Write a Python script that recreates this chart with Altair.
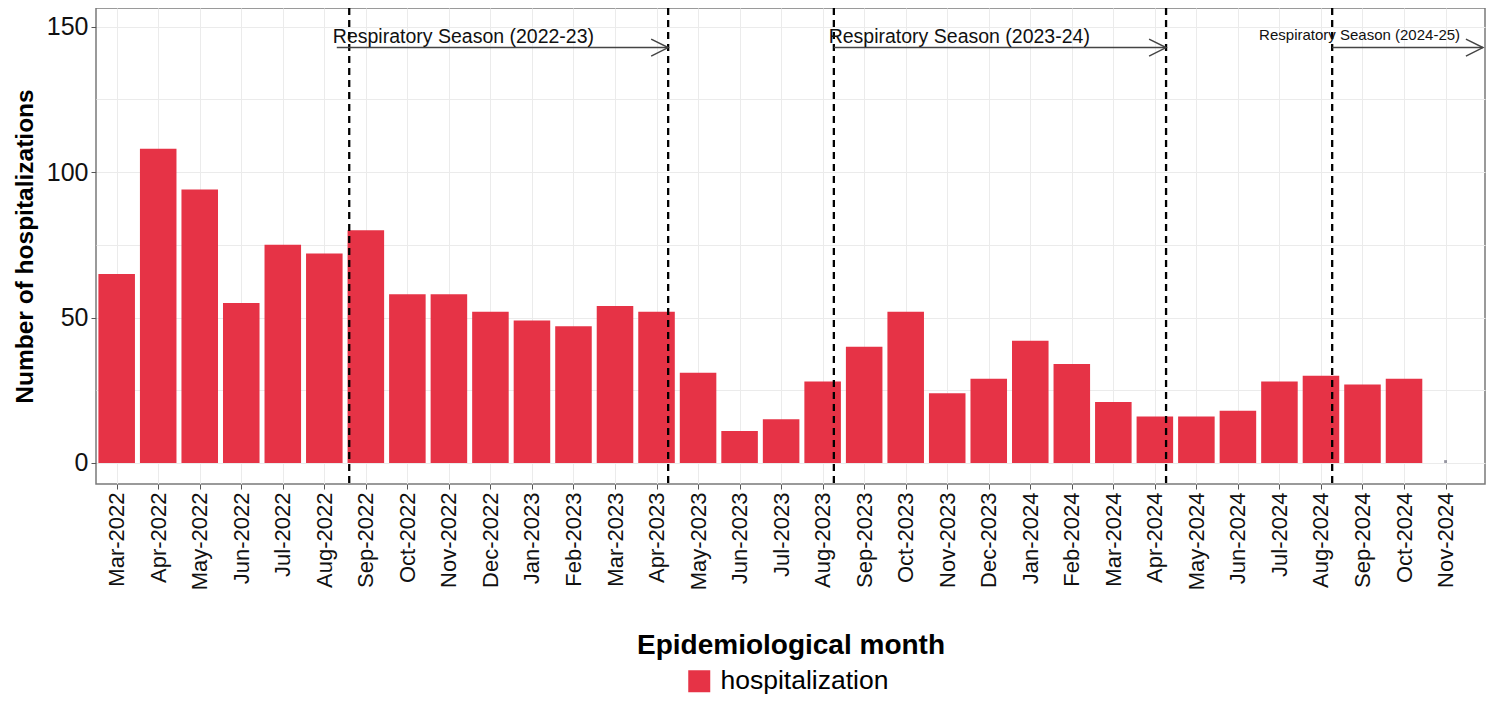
import altair as alt
import pandas as pd

months = ["Mar-2022", "Apr-2022", "May-2022", "Jun-2022", "Jul-2022", "Aug-2022",
          "Sep-2022", "Oct-2022", "Nov-2022", "Dec-2022", "Jan-2023", "Feb-2023",
          "Mar-2023", "Apr-2023", "May-2023", "Jun-2023", "Jul-2023", "Aug-2023",
          "Sep-2023", "Oct-2023", "Nov-2023", "Dec-2023", "Jan-2024", "Feb-2024",
          "Mar-2024", "Apr-2024", "May-2024", "Jun-2024", "Jul-2024", "Aug-2024",
          "Sep-2024", "Oct-2024", "Nov-2024"]
hospitalizations = [65, 108, 94, 55, 75, 72, 80, 58, 58, 52, 49, 47, 54, 52, 31, 11, 15,
                    28, 40, 52, 24, 29, 42, 34, 21, 16, 16, 18, 28, 30, 27, 29]
# Nov-2024: a tiny mark only
last_month_value = [0.5]

# season boundary lines (month index units)
vlines = [5.6, 13.28, 17.27, 25.27, 29.27]
season_labels = ["Respiratory Season (2022-23)", "Respiratory Season (2023-24)",
                 "Respiratory Season (2024-25)"]
season_text_x = [8.35, 20.29, 29.93]
season_text_y = [146.3, 146.3, 147.1]
season_text_size = [19.5, 19.5, 15]
arrow_start = [5.3, 17.27, 29.27]
arrow_end = [13.28, 25.27, 32.9]
arrow_y = [142.8, 142.8, 142.8]

bar_half = 0.44
FONT = "Liberation Sans"
RED = "#E63346"

bars = pd.DataFrame({
    "idx": list(range(len(hospitalizations))),
    "month": months[:len(hospitalizations)],
    "value": hospitalizations,
    "series": ["hospitalization"] * len(hospitalizations),
})
bars["x0"] = bars["idx"] - bar_half
bars["x1"] = bars["idx"] + bar_half

dot = pd.DataFrame({"idx": [len(months) - 1], "value": last_month_value})
lines = pd.DataFrame({"x": vlines})
texts = pd.DataFrame({"x": season_text_x, "y": season_text_y,
                      "label": season_labels, "size": season_text_size})
arrows = pd.DataFrame({"x": arrow_start, "x2": arrow_end, "y": arrow_y})

xdomain = [-0.498, 32.95]
ydomain = [-7.22, 156.4]

label_arr = "[" + ",".join("'" + m + "'" for m in months) + "]"
xvals = [i / 2 for i in range(0, 2 * len(months))]
yvals = [0, 25, 50, 75, 100, 125, 150]

xscale = alt.Scale(domain=xdomain, nice=False, zero=False)
yscale = alt.Scale(domain=ydomain, nice=False, zero=False)

xaxis = alt.Axis(
    values=xvals, grid=True, gridColor="#EBEBEB", gridWidth=1,
    labelExpr="datum.value % 1 == 0 ? " + label_arr + "[datum.value] : ''",
    labelAngle=-90, labelAlign="right", labelBaseline="middle",
    labelFontSize=22, labelFont=FONT, labelColor="#111", labelPadding=3,
    tickColor="#555", tickSize=5,
    tickOpacity={"condition": {"test": "datum.value % 1 != 0", "value": 0}, "value": 1},
    domain=False, labelOverlap=False,
    title="Epidemiological month", titleFont=FONT, titleFontSize=28,
    titleFontWeight="bold", titleColor="#000", titlePadding=42,
)
yaxis = alt.Axis(
    values=yvals, grid=True, gridColor="#EBEBEB", gridWidth=1,
    labelExpr="datum.value % 50 == 0 ? datum.label : ''",
    labelFontSize=25, labelFont=FONT, labelColor="#111", labelPadding=3,
    tickColor="#555", tickSize=5,
    tickOpacity={"condition": {"test": "datum.value % 50 != 0", "value": 0}, "value": 1},
    domain=False,
    title="Number of hospitalizations", titleFont=FONT, titleFontSize=24.5,
    titleFontWeight="bold", titleColor="#000", titlePadding=9,
)

bar_layer = alt.Chart(bars).mark_bar().encode(
    x=alt.X("x0:Q", scale=xscale, axis=xaxis),
    x2="x1:Q",
    y=alt.Y("value:Q", scale=yscale, axis=yaxis),
    y2=alt.datum(0),
    color=alt.Color("series:N",
                    scale=alt.Scale(domain=["hospitalization"], range=[RED]),
                    legend=alt.Legend(orient="none", legendX=590, legendY=660,
                                      title=None, symbolType="square",
                                      symbolSize=484, symbolStrokeWidth=0,
                                      labelFont=FONT, labelFontSize=26.5,
                                      labelLimit=0,
                                      labelColor="#000", labelOffset=8,
                                      padding=0)),
)

dot_layer = alt.Chart(dot).mark_point(shape="square", filled=True, size=8,
                                      color="#6a6a7a").encode(
    x=alt.X("idx:Q", scale=xscale), y=alt.Y("value:Q", scale=yscale))

vline_layer = alt.Chart(lines).mark_rule(color="#000", strokeWidth=2.3,
                                         strokeDash=[7, 5]).encode(
    x=alt.X("x:Q", scale=xscale))

arrow_layer = alt.Chart(arrows).mark_rule(color="#444", strokeWidth=1.5).encode(
    x=alt.X("x:Q", scale=xscale), x2="x2:Q", y=alt.Y("y:Q", scale=yscale))

head_layer = alt.Chart(arrows).mark_point(
    shape="M -1 -0.5 L 0 0 L -1 0.5", filled=False, size=1156,
    color="#444", strokeWidth=1.5, opacity=1).encode(
    x=alt.X("x2:Q", scale=xscale), y=alt.Y("y:Q", scale=yscale))

text_layer = alt.Chart(texts).mark_text(font=FONT, color="#111",
                                        baseline="middle", align="center").encode(
    x=alt.X("x:Q", scale=xscale), y=alt.Y("y:Q", scale=yscale),
    text="label:N", size=alt.Size("size:Q", scale=None, legend=None))

chart = alt.layer(bar_layer, dot_layer, vline_layer, arrow_layer, head_layer,
                  text_layer).properties(
    width=1389, height=476,
    background="white",
    autosize=alt.AutoSizeParams(type="none"),
    padding={"left": 88, "top": 0, "right": 3, "bottom": 210},
).configure_view(stroke="#7a7a7a", strokeWidth=1.5)

chart.save("out.html", embed_options={"renderer": "svg", "actions": False})
